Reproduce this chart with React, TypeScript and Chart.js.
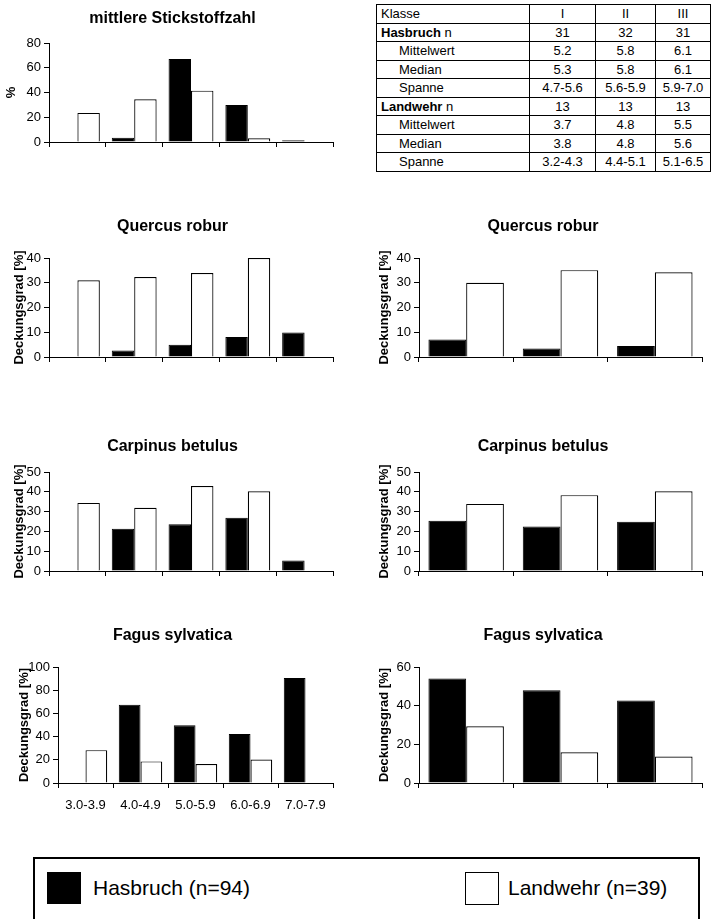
import React, { useEffect, useRef } from 'react';
import { Chart, registerables } from 'chart.js';

Chart.register(...registerables);

const FONT = '"Liberation Sans", Arial, Helvetica, sans-serif';

// categories
const classLabels = ['3.0-3.9', '4.0-4.9', '5.0-5.9', '6.0-6.9', '7.0-7.9'];
const groupLabels = ['I', 'II', 'III'];

// mittlere Stickstoffzahl (%)
const nZahlHasbruch = [0, 3.5, 67, 30, 1.5];
const nZahlLandwehr = [23.5, 34.5, 41.5, 3, 0];

// Quercus robur
const quercusClassHasbruch = [0, 2.6, 5, 8.1, 9.9];
const quercusClassLandwehr = [31, 32.3, 33.9, 40, 0];
const quercusGroupHasbruch = [7.1, 3.4, 4.4];
const quercusGroupLandwehr = [30, 35.1, 34.2];

// Carpinus betulus
const carpinusClassHasbruch = [0, 21.4, 23.6, 26.9, 5.3];
const carpinusClassLandwehr = [34.4, 31.9, 42.9, 40.3, 0];
const carpinusGroupHasbruch = [25.4, 22.5, 24.9];
const carpinusGroupLandwehr = [33.9, 38.3, 40.3];

// Fagus sylvatica
const fagusClassHasbruch = [0, 67.4, 49.7, 42.3, 90.6];
const fagusClassLandwehr = [28.3, 18.6, 16.3, 20.3, 0];
const fagusGroupHasbruch = [54, 48, 42.7];
const fagusGroupLandwehr = [29.3, 15.9, 13.7];

// table
const tableHeader = ['Klasse', 'I', 'II', 'III'];
const hasbruchN = ['31', '32', '31'];
const hasbruchMittel = ['5.2', '5.8', '6.1'];
const hasbruchMedian = ['5.3', '5.8', '6.1'];
const hasbruchSpanne = ['4.7-5.6', '5.6-5.9', '5.9-7.0'];
const landwehrN = ['13', '13', '13'];
const landwehrMittel = ['3.7', '4.8', '5.5'];
const landwehrMedian = ['3.8', '4.8', '5.6'];
const landwehrSpanne = ['3.2-4.3', '4.4-5.1', '5.1-6.5'];

const seriesNames = ['Hasbruch (n=94)', 'Landwehr (n=39)'];

type BarProps = {
  left: number;
  top: number;
  width: number;
  height: number;
  title: string;
  padT: number;
  padB: number;
  yTitle: string;
  yTitlePad: number;
  yWidth: number;
  rightPad: number;
  yMax: number;
  yStep: number;
  labels: string[];
  h: number[];
  l: number[];
  showX: boolean;
  xHeight: number;
  catPct: number;
};

function BarChart(p: BarProps) {
  const ref = useRef<HTMLCanvasElement | null>(null);
  useEffect(() => {
    if (!ref.current) return;
    const chart = new Chart(ref.current, {
      type: 'bar',
      data: {
        labels: p.labels,
        datasets: [
          {
            label: 'Hasbruch',
            data: p.h,
            backgroundColor: '#000',
            borderColor: '#000',
            borderWidth: 1,
            barPercentage: 1,
            categoryPercentage: p.catPct,
            yAxisID: 'y',
          },
          {
            label: 'Landwehr',
            data: p.l,
            backgroundColor: '#fff',
            borderColor: '#000',
            borderWidth: 1.2,
            barPercentage: 1,
            categoryPercentage: p.catPct,
            yAxisID: 'y',
          },
        ],
      },
      options: {
        responsive: false,
        maintainAspectRatio: false,
        animation: false,
        layout: { padding: 0 },
        plugins: {
          legend: { display: false },
          tooltip: { enabled: false },
          title: {
            display: true,
            text: p.title,
            color: '#000',
            font: { family: FONT, size: 16, weight: 'bold' },
            padding: { top: p.padT, bottom: p.padB },
          },
        },
        scales: {
          x: {
            type: 'category',
            grid: {
              display: true,
              drawOnChartArea: false,
              drawTicks: true,
              tickLength: 5,
              color: '#000',
              offset: true,
            },
            border: { display: true, color: '#000', width: 1 },
            ticks: {
              display: p.showX,
              color: '#000',
              font: { family: FONT, size: 13 },
              padding: 10,
              maxRotation: 0,
              autoSkip: false,
            },
            afterFit: (s: any) => {
              s.height = p.xHeight;
            },
          },
          y: {
            type: 'linear',
            position: 'left',
            min: 0,
            max: p.yMax,
            ticks: {
              stepSize: p.yStep,
              color: '#000',
              font: { family: FONT, size: 13 },
              padding: 3,
            },
            grid: {
              display: true,
              drawOnChartArea: false,
              drawTicks: true,
              tickLength: 5,
              color: '#000',
            },
            border: { display: true, color: '#000', width: 1 },
            title: {
              display: true,
              text: p.yTitle,
              color: '#000',
              font: { family: FONT, size: 13, weight: 'bold' },
              padding: { top: p.yTitlePad, bottom: 0 },
            },
            afterFit: (s: any) => {
              s.width = p.yWidth;
            },
          },
          y2: {
            type: 'linear',
            position: 'right',
            display: true,
            grid: { display: false, drawTicks: false },
            ticks: { display: false },
            border: { display: false },
            afterFit: (s: any) => {
              s.width = p.rightPad;
            },
          },
        },
      } as any,
    });
    return () => chart.destroy();
  }, []);
  return (
    <div style={{ position: 'absolute', left: p.left, top: p.top, width: p.width, height: p.height }}>
      <canvas
        ref={ref}
        width={p.width}
        height={p.height}
        style={{ display: 'block', width: p.width, height: p.height }}
      />
    </div>
  );
}

const cellBase: React.CSSProperties = {
  border: '1px solid #000',
  padding: 0,
  height: 17.5,
  lineHeight: '17px',
  textAlign: 'center',
  whiteSpace: 'nowrap',
};

function StatsTable() {
  const rows: { label: React.ReactNode; vals: string[]; indent: boolean }[] = [
    { label: tableHeader[0], vals: tableHeader.slice(1), indent: false },
    { label: (<span><b>Hasbruch</b> n</span>), vals: hasbruchN, indent: false },
    { label: 'Mittelwert', vals: hasbruchMittel, indent: true },
    { label: 'Median', vals: hasbruchMedian, indent: true },
    { label: 'Spanne', vals: hasbruchSpanne, indent: true },
    { label: (<span><b>Landwehr</b> n</span>), vals: landwehrN, indent: false },
    { label: 'Mittelwert', vals: landwehrMittel, indent: true },
    { label: 'Median', vals: landwehrMedian, indent: true },
    { label: 'Spanne', vals: landwehrSpanne, indent: true },
  ];
  return (
    <table
      style={{
        position: 'absolute',
        left: 376,
        top: 4,
        width: 334,
        borderCollapse: 'collapse',
        tableLayout: 'fixed',
        fontFamily: FONT,
        fontSize: 13,
        color: '#000',
      }}
    >
      <colgroup>
        <col style={{ width: 153 }} />
        <col style={{ width: 66 }} />
        <col style={{ width: 60 }} />
        <col style={{ width: 55 }} />
      </colgroup>
      <tbody>
        {rows.map((r, i) => (
          <tr key={i}>
            <td style={{ ...cellBase, textAlign: 'left', paddingLeft: r.indent ? 22 : 4 }}>{r.label}</td>
            {r.vals.map((v, j) => (
              <td key={j} style={cellBase}>
                {v}
              </td>
            ))}
          </tr>
        ))}
      </tbody>
    </table>
  );
}

function Legend() {
  return (
    <div
      style={{
        position: 'absolute',
        left: 33,
        top: 857,
        width: 667,
        height: 90,
        border: '2px solid #000',
        boxSizing: 'border-box',
        fontFamily: FONT,
        fontSize: 21,
        color: '#000',
      }}
    >
      <div style={{ position: 'absolute', left: 12, top: 13, width: 34, height: 32, background: '#000' }} />
      <div style={{ position: 'absolute', left: 58, top: 16, lineHeight: '26px' }}>{seriesNames[0]}</div>
      <div
        style={{
          position: 'absolute',
          left: 430,
          top: 13,
          width: 32,
          height: 31,
          background: '#fff',
          border: '1px solid #000',
        }}
      />
      <div style={{ position: 'absolute', left: 473, top: 16, lineHeight: '26px' }}>{seriesNames[1]}</div>
    </div>
  );
}

export default function App() {
  const L = { left: 0, width: 345, rightPad: 12, catPct: 0.79 };
  const R = { left: 371, width: 344, rightPad: 13, yWidth: 48, yTitlePad: 6, catPct: 0.8 };
  return (
    <div
      style={{
        position: 'absolute',
        left: 0,
        top: 0,
        width: 715,
        height: 919,
        overflow: 'hidden',
        background: '#fff',
      }}
    >
      <BarChart
        {...L}
        top={0}
        height={162}
        title="mittlere Stickstoffzahl"
        padT={9.4}
        padB={14.4}
        yTitle="%"
        yTitlePad={4}
        yWidth={49}
        yMax={80}
        yStep={20}
        labels={classLabels}
        h={nZahlHasbruch}
        l={nZahlLandwehr}
        showX={false}
        xHeight={20}
      />
      <StatsTable />

      <BarChart
        {...L}
        top={200}
        height={177}
        title="Quercus robur"
        padT={16.9}
        padB={21.9}
        yTitle="Deckungsgrad [%]"
        yTitlePad={12}
        yWidth={49}
        yMax={40}
        yStep={10}
        labels={classLabels}
        h={quercusClassHasbruch}
        l={quercusClassLandwehr}
        showX={false}
        xHeight={20}
      />
      <BarChart
        {...R}
        top={200}
        height={177}
        title="Quercus robur"
        padT={16.9}
        padB={21.9}
        yTitle="Deckungsgrad [%]"
        yMax={40}
        yStep={10}
        labels={groupLabels}
        h={quercusGroupHasbruch}
        l={quercusGroupLandwehr}
        showX={false}
        xHeight={20}
      />

      <BarChart
        {...L}
        top={420}
        height={171}
        title="Carpinus betulus"
        padT={17.4}
        padB={15.4}
        yTitle="Deckungsgrad [%]"
        yTitlePad={12}
        yWidth={49}
        yMax={50}
        yStep={10}
        labels={classLabels}
        h={carpinusClassHasbruch}
        l={carpinusClassLandwehr}
        showX={false}
        xHeight={20}
      />
      <BarChart
        {...R}
        top={420}
        height={171}
        title="Carpinus betulus"
        padT={17.4}
        padB={15.4}
        yTitle="Deckungsgrad [%]"
        yMax={50}
        yStep={10}
        labels={groupLabels}
        h={carpinusGroupHasbruch}
        l={carpinusGroupLandwehr}
        showX={false}
        xHeight={20}
      />

      <BarChart
        {...L}
        top={610}
        height={203}
        title="Fagus sylvatica"
        padT={16.4}
        padB={21.4}
        yTitle="Deckungsgrad [%]"
        yTitlePad={17}
        yWidth={58}
        yMax={100}
        yStep={20}
        labels={classLabels}
        h={fagusClassHasbruch}
        l={fagusClassLandwehr}
        showX={true}
        xHeight={30}
      />
      <BarChart
        {...R}
        top={610}
        height={203}
        title="Fagus sylvatica"
        padT={16.4}
        padB={21.4}
        yTitle="Deckungsgrad [%]"
        yMax={60}
        yStep={20}
        labels={groupLabels}
        h={fagusGroupHasbruch}
        l={fagusGroupLandwehr}
        showX={false}
        xHeight={30}
      />

      <Legend />
    </div>
  );
}
